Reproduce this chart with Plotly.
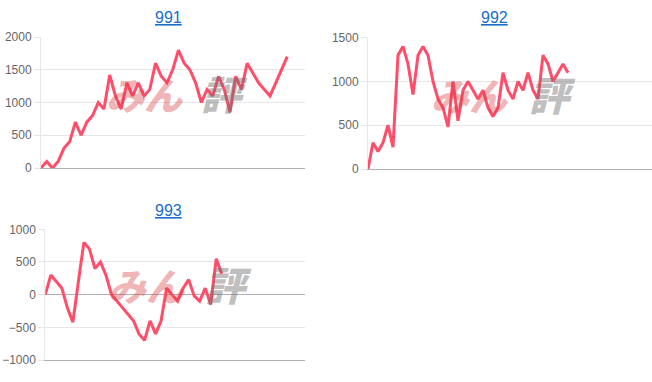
import plotly.graph_objects as go

W, H = 652, 382

titles = ["991", "992", "993"]
s991 = [0, 100, 0, 100, 300, 400, 700, 500, 700, 800,
        1000, 900, 1420, 1100, 900, 1300, 1100, 1300, 1100, 1200,
        1600, 1400, 1300, 1500, 1800, 1600, 1500, 1300, 1000, 1200,
        1100, 1400, 1200, 850, 1400, 1200, 1600, 1450, 1300, 1200,
        1100, 1300, 1500, 1700]
s992 = [0, 300, 200, 300, 500, 250, 1300, 1400, 1200, 850,
        1300, 1400, 1300, 1000, 800, 700, 480, 1000, 550, 900,
        1000, 900, 800, 900, 700, 600, 700, 1100, 900, 800,
        1000, 900, 1100, 900, 800, 1300, 1200, 1000, 1100, 1200,
        1100]
s993 = [0, 300, 200, 100, -200, -420, 200, 800, 700, 400,
        500, 300, 0, -100, -200, -300, -400, -600, -700, -400,
        -600, -400, 100, 0, -100, 100, 230, -20, -100, 100,
        -150, 550, 320]
series = [s991, s992, s993]

y_ranges = [[0, 2000], [0, 1500], [-1000, 1000]]
x_ranges = [[0, 46.1], [0, 56.8], [0, 47.1]]

# plot areas in pixels: (left, right, top, bottom)
areas = [(41, 305, 37, 168), (368, 652, 37.7, 169), (45.3, 305, 229.3, 360)]
title_pos = [(168, 18), (495, 18), (168, 210.5)]
wm_pos = [(145, 224, 93), (470, 552, 94), (147, 228, 284)]

LINE = "rgb(255,77,106)"
GRID = "#e6e6e6"
AXIS = "#b0b0b0"
FONT = "Liberation Sans, Arial, sans-serif"

fig = go.Figure()
layout = dict(
    width=W, height=H, margin=dict(l=0, r=0, t=0, b=0, pad=0),
    paper_bgcolor="white", plot_bgcolor="white", showlegend=False,
    font=dict(family=FONT, size=12, color="#666"),
    annotations=[],
)

for i, (vals, yr, xr, area) in enumerate(zip(series, y_ranges, x_ranges, areas)):
    n = "" if i == 0 else str(i + 1)
    l, r, t, b = area
    fig.add_trace(go.Scatter(
        x=list(range(len(vals))), y=vals, mode="lines",
        line=dict(color=LINE, width=3), xaxis="x" + n, yaxis="y" + n,
        hoverinfo="skip",
    ))
    layout["xaxis" + n] = dict(
        domain=[l / W, r / W], anchor="y" + n, range=xr, automargin=False,
        showgrid=False, zeroline=False, showticklabels=False, ticks="",
        showline=True, linecolor=AXIS, linewidth=1, fixedrange=True,
    )
    layout["yaxis" + n] = dict(
        domain=[1 - b / H, 1 - t / H], anchor="x" + n, range=yr, automargin=False,
        dtick=500, showgrid=True, gridcolor=GRID, gridwidth=1,
        zeroline=(yr[0] < 0), zerolinecolor=AXIS, zerolinewidth=1,
        showline=True, linecolor=GRID, linewidth=1,
        ticks="outside", ticklen=6, tickcolor=GRID,
        tickfont=dict(family=FONT, size=12, color="#666"),
        fixedrange=True,
    )
    tx, ty = title_pos[i]
    layout["annotations"].append(dict(
        text="<u>" + titles[i] + "</u>", x=tx / W, y=1 - ty / H,
        xref="paper", yref="paper", showarrow=False,
        font=dict(family=FONT, size=16, color="#1a6ec8"),
        xanchor="center", yanchor="middle",
    ))
    px, gx, wy = wm_pos[i]
    layout["annotations"].append(dict(
        text="みん", x=px / W, y=1 - wy / H,
        xref="paper", yref="paper", showarrow=False,
        font=dict(family="Noto Sans CJK JP", size=38, weight=900, style="italic",
                  color="rgba(215,60,65,0.38)"),
        xanchor="center", yanchor="middle",
    ))
    layout["annotations"].append(dict(
        text="評", x=gx / W, y=1 - wy / H,
        xref="paper", yref="paper", showarrow=False,
        font=dict(family="Noto Sans CJK JP", size=40, weight=900, style="italic",
                  color="rgba(110,110,110,0.46)"),
        xanchor="center", yanchor="middle",
    ))

fig.update_layout(**layout)
fig.write_html("out.html", config={"displayModeBar": False})
